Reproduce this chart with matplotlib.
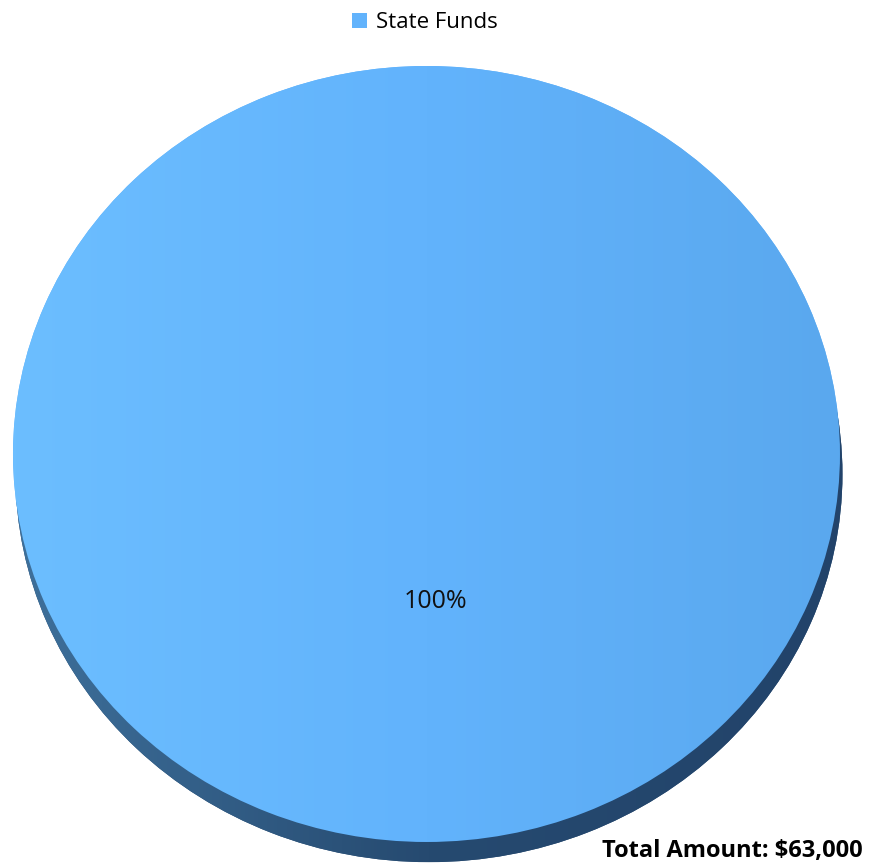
import numpy as np
import matplotlib.pyplot as plt
from matplotlib.colors import LinearSegmentedColormap

# funding breakdown
labels = ["State Funds"]
amounts = [63000]
total_label = "Total Amount: $63,000"

plt.rcParams["font.family"] = ["Open Sans", "DejaVu Sans"]

fig = plt.figure(figsize=(8.76, 8.66), dpi=100)
ax = fig.add_axes([0, 0, 1, 1])

depth = 0.052   # thickness of the pie's side, in radius units
shift = 0.006   # slight tilt so the side shows more on the lower right

# side of the pie: same slices, shifted down
side, _ = ax.pie(amounts, colors=["#264a70"], startangle=90,
                 center=(shift, -depth), wedgeprops=dict(linewidth=0))

top, _, pct = ax.pie(amounts, colors=["#62b3fc"], startangle=90,
                     autopct="%1.0f%%", pctdistance=0.38,
                     wedgeprops=dict(linewidth=0),
                     textprops=dict(fontsize=18, color="#111111"))

# soft left-to-right shading on top face and side
grad = np.linspace(0, 1, 256).reshape(1, -1)
top_cmap = LinearSegmentedColormap.from_list("top", ["#6cbeff", "#62b3fc", "#5aa8ee"])
side_cmap = LinearSegmentedColormap.from_list("side", ["#3e709b", "#264a70", "#22436a"])

im_side = ax.imshow(grad, cmap=side_cmap,
                    extent=(-1 + shift, 1 + shift, -1 - depth, 1 - depth),
                    aspect="auto", zorder=side[0].get_zorder() + 0.05)
im_side.set_clip_path(side[0])
im_top = ax.imshow(grad, cmap=top_cmap, extent=(-1, 1, -1, 1),
                   aspect="auto", zorder=top[0].get_zorder() + 0.1)
im_top.set_clip_path(top[0])
for t in pct:
    x, y = t.get_position()
    t.set_position((x + 0.022, y))
    t.set_zorder(5)

ax.set_aspect("auto")
ax.set_xlim(-1.0314, 1.0871)
ax.set_ylim(-1.0619, 1.1701)
ax.axis("off")

ax.legend(top, labels, loc="center", bbox_to_anchor=(425 / 876, 1 - 23 / 866),
          bbox_transform=fig.transFigure, frameon=False, fontsize=16,
          handlelength=0.65, handleheight=0.65, handletextpad=0.4)

fig.text(863 / 876, 1 - 851 / 866, total_label, ha="right", va="center",
         fontsize=17, fontweight="bold")

fig.savefig("out.png", dpi=100, facecolor="white")
